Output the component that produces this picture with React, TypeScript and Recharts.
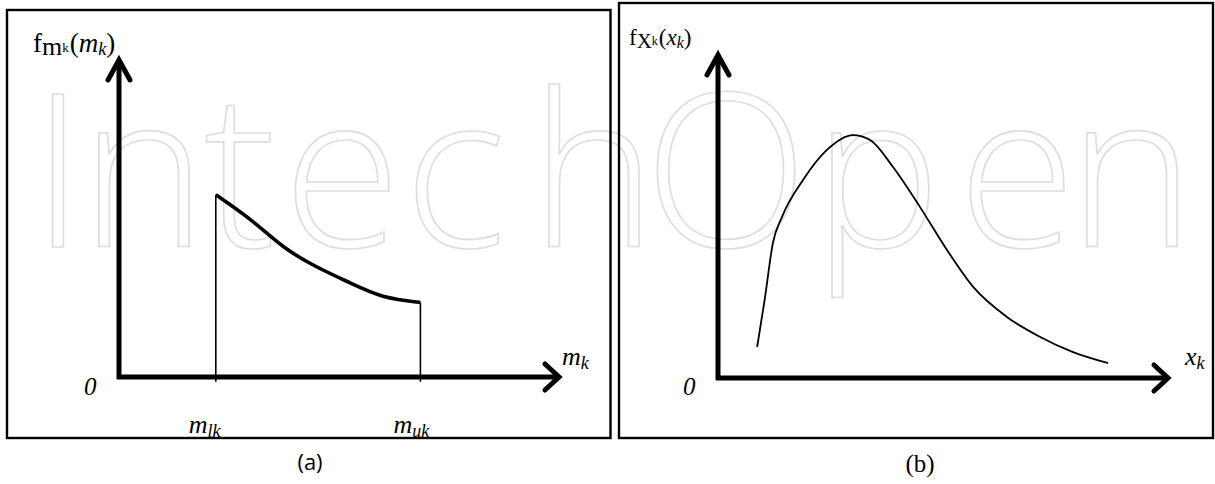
import React from "react";
import { LineChart, Line, XAxis, YAxis, ReferenceLine } from "recharts";

// Panel (a): truncated density on [m_lk, m_uk]
const aM = [2.2, 3.0, 3.75, 4.5, 5.25, 6.0, 6.85];
const aF = [5.75, 4.95, 4.1, 3.47, 2.97, 2.55, 2.35];
const aLowerBound = 2.2;
const aUpperBound = 6.85;
const aTickLabels = ["lk", "uk"];

// Panel (b): skewed density f_Xk(x_k)
const bX = [0.87, 1.04, 1.22, 1.42, 1.89, 2.42, 3.0, 3.38, 3.89, 4.49, 5.09, 5.67, 6.42, 7.16, 7.89, 8.67];
const bF = [0.96, 2.45, 4.18, 4.98, 6.13, 7.06, 7.52, 7.37, 6.53, 5.29, 3.96, 2.82, 1.89, 1.27, 0.8, 0.46];

// watermark letters and their left positions
const wmText = "IntechOpen";
const wmX = [31, 80, 204, 283, 404, 530, 644, 813, 958, 1068];

const aData = aM.map((m, i) => ({ x: m, y: aF[i] }));
const bData = bX.map((x, i) => ({ x, y: bF[i] }));

const SERIF = "Liberation Serif, Times New Roman, Times, DejaVu Serif, serif";

const makeArrow = (armBack: number, armSide: number) => (p: any) => {
  const { x1, y1, x2, y2 } = p;
  const dx = x2 - x1;
  const dy = y2 - y1;
  const len = Math.sqrt(dx * dx + dy * dy) || 1;
  const ux = dx / len;
  const uy = dy / len;
  const nx = -uy;
  const ny = ux;
  const bx = x2 - ux * armBack;
  const by = y2 - uy * armBack;
  const pts = `${bx + nx * armSide},${by + ny * armSide} ${x2},${y2} ${bx - nx * armSide},${by - ny * armSide}`;
  return (
    <g>
      <line x1={x1 - ux * 2} y1={y1 - uy * 2} x2={x2 - ux * 2} y2={y2 - uy * 2} stroke="#000" strokeWidth={5} />
      <polyline points={pts} fill="none" stroke="#000" strokeWidth={5} strokeLinecap="round" strokeLinejoin="miter" />
    </g>
  );
};

const yArrow = makeArrow(20, 11);
const xArrow = makeArrow(14, 13);

const ATick = (props: any) => {
  const { x, y, index } = props;
  return (
    <text x={x - 27} y={y + 48} textAnchor="start" style={{ fontFamily: SERIF }} fontSize={26} fill="#000">
      <tspan fontStyle="italic">m</tspan>
      <tspan fontStyle="italic" fontSize={18} dy={4}>{aTickLabels[index]}</tspan>
    </text>
  );
};

export default function App() {
  return (
    <div style={{ position: "absolute", left: 0, top: 0, width: 1215, height: 484, background: "#fff", overflow: "hidden" }}>
      {/* watermark */}
      <svg width={1215} height={484} style={{ position: "absolute", left: 0, top: 0 }}>
        <text
          x={wmX.join(" ")}
          y={247}
          style={{ fontFamily: "Open Sans, sans-serif" }}
          fontWeight={300}
          fontSize={215}
          fill="none"
          stroke="#dedede"
          strokeWidth={1.7}
        >
          {wmText}
        </text>
      </svg>

      {/* panel (a) */}
      <div style={{ position: "absolute", left: 0, top: 0 }}>
        <LineChart width={620} height={484} margin={{ top: 60, right: 61, bottom: 47, left: 119 }}>
          <XAxis
            type="number"
            dataKey="x"
            domain={[0, 10]}
            ticks={[aLowerBound, aUpperBound]}
            height={60}
            axisLine={false}
            tickLine={false}
            tick={<ATick />}
            interval={0}
          />
          <YAxis type="number" dataKey="y" domain={[0, 10]} hide />
          <ReferenceLine segment={[{ x: aLowerBound, y: -0.15 }, { x: aLowerBound, y: aF[0] }]} stroke="#000" strokeWidth={1.6} ifOverflow="visible" />
          <ReferenceLine segment={[{ x: aUpperBound, y: -0.15 }, { x: aUpperBound, y: aF[aF.length - 1] }]} stroke="#000" strokeWidth={1.6} ifOverflow="visible" />
          <ReferenceLine segment={[{ x: 0, y: 0 }, { x: 0, y: 10 }]} shape={yArrow} ifOverflow="visible" />
          <ReferenceLine segment={[{ x: 0, y: 0 }, { x: 10, y: 0 }]} shape={xArrow} ifOverflow="visible" />
          <Line data={aData} dataKey="y" type="natural" stroke="#000" strokeWidth={3.6} dot={false} isAnimationActive={false} />
        </LineChart>
      </div>

      {/* panel (b) */}
      <div style={{ position: "absolute", left: 610, top: 0 }}>
        <LineChart width={605} height={484} margin={{ top: 55, right: 47, bottom: 106, left: 108 }}>
          <XAxis type="number" dataKey="x" domain={[0, 10]} hide />
          <YAxis type="number" dataKey="y" domain={[0, 10]} hide />
          <ReferenceLine segment={[{ x: 0, y: 0 }, { x: 0, y: 10 }]} shape={yArrow} ifOverflow="visible" />
          <ReferenceLine segment={[{ x: 0, y: 0 }, { x: 10, y: 0 }]} shape={xArrow} ifOverflow="visible" />
          <Line data={bData} dataKey="y" type="monotone" stroke="#000" strokeWidth={1.8} dot={false} isAnimationActive={false} />
        </LineChart>
      </div>

      {/* frames and labels */}
      <svg width={1215} height={484} style={{ position: "absolute", left: 0, top: 0, pointerEvents: "none", fontFamily: SERIF }}>
        <rect x={7} y={10} width={603.5} height={428} fill="none" stroke="#000" strokeWidth={2.4} />
        <rect x={619} y={3} width={594} height={435} fill="none" stroke="#000" strokeWidth={2.4} />

        <text x={33} y={52} fontSize={27} fill="#000">
          <tspan>f</tspan>
          <tspan fontSize={26} dy={3}>m</tspan>
          <tspan fontSize={13} dy={-3}>k</tspan>
          <tspan dx={1}>(</tspan>
          <tspan fontStyle="italic">m</tspan>
          <tspan fontStyle="italic" fontSize={18} dy={3}>k</tspan>
          <tspan dy={-3}>)</tspan>
        </text>
        <text x={629} y={45} fontSize={23} fill="#000">
          <tspan>f</tspan>
          <tspan fontSize={21} dy={3}>X</tspan>
          <tspan fontSize={12} dy={-3}>k</tspan>
          <tspan dx={1}>(</tspan>
          <tspan fontStyle="italic">x</tspan>
          <tspan fontStyle="italic" fontSize={16} dy={3}>k</tspan>
          <tspan dy={-3}>)</tspan>
        </text>

        <text x={84} y={395} fontSize={25} fontStyle="italic" fill="#000">0</text>
        <text x={683} y={395} fontSize={25} fontStyle="italic" fill="#000">0</text>

        <text x={562} y={365} fontSize={26} fontStyle="italic" fill="#000">
          <tspan>m</tspan>
          <tspan fontSize={18} dy={4}>k</tspan>
        </text>
        <text x={1185} y={365} fontSize={26} fontStyle="italic" fill="#000">
          <tspan>x</tspan>
          <tspan fontSize={18} dy={4}>k</tspan>
        </text>

        <text x={310} y={470} textAnchor="middle" style={{ fontFamily: "Open Sans, sans-serif" }} fontSize={22} fill="#000">(a)</text>
        <text x={920} y={472} textAnchor="middle" fontSize={25} fill="#000">(b)</text>
      </svg>
    </div>
  );
}
